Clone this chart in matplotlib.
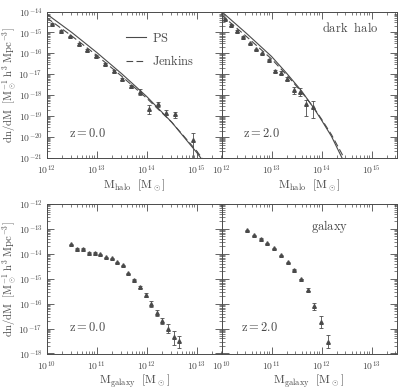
import numpy as np
import matplotlib; matplotlib.use("Agg")
import matplotlib.pyplot as plt
from matplotlib.ticker import LogLocator, FuncFormatter, NullFormatter

plt.rcParams["mathtext.fontset"] = "cm"
plt.rcParams["font.family"] = ["DejaVu Serif"]
INK = "#4a4a4a"

# ---- dark halo, z=0.0 (log10 values) ----
logM_h0 = [12.10, 12.28, 12.47, 12.64, 12.81, 12.99, 13.17, 13.34, 13.51, 13.69, 13.87, 14.05, 14.22, 14.39, 14.57, 14.92]
logn_h0 = [-14.59, -14.92, -15.18, -15.56, -15.84, -16.12, -16.52, -16.86, -17.24, -17.58, -17.85, -18.69, -18.45, -18.85, -18.92, -20.17]
elo_h0 = [0.03, 0.03, 0.03, 0.03, 0.03, 0.04, 0.04, 0.05, 0.06, 0.08, 0.14, 0.22, 0.12, 0.12, 0.16, 1.5]
ehi_h0 = [0.03, 0.03, 0.03, 0.03, 0.03, 0.04, 0.04, 0.05, 0.06, 0.08, 0.14, 0.20, 0.12, 0.12, 0.13, 0.34]
# theory curves z=0.0
cM_0 = [12.0, 12.5, 13.0, 13.5, 14.0, 14.5, 15.0, 15.1, 15.3]
ps_0 = [-14.12, -15.0, -15.96, -16.98, -18.07, -19.30, -20.75, -21.07, -21.8]
jk_0 = [-14.30, -15.17, -16.10, -17.10, -18.15, -19.30, -20.68, -21.0, -21.6]

# ---- dark halo, z=2.0 ----
logM_h2 = [12.06, 12.18, 12.30, 12.42, 12.56, 12.68, 12.81, 12.94, 13.06, 13.18, 13.31, 13.44, 13.57, 13.69, 13.82]
logn_h2 = [-14.37, -14.65, -14.93, -15.21, -15.53, -15.81, -16.01, -16.30, -16.86, -16.94, -17.21, -17.77, -17.86, -18.45, -18.58]
elo_h2 = [0.03, 0.03, 0.03, 0.03, 0.03, 0.03, 0.03, 0.04, 0.06, 0.07, 0.09, 0.17, 0.20, 0.55, 0.54]
ehi_h2 = [0.03, 0.03, 0.03, 0.03, 0.03, 0.03, 0.03, 0.04, 0.06, 0.07, 0.09, 0.17, 0.22, 0.23, 0.31]
cM_2 = [12.0, 12.5, 13.0, 13.3, 13.6, 13.85, 14.0, 14.2, 14.4, 14.55]
ps_2 = [-14.0, -15.05, -16.15, -16.95, -17.80, -18.64, -19.20, -19.98, -20.96, -21.7]
jk_2 = [-14.17, -15.20, -16.27, -17.03, -17.85, -18.62, -19.15, -19.90, -20.78, -21.5]

# ---- galaxy, z=0.0 ----
logM_g0 = [10.49, 10.61, 10.73, 10.85, 10.97, 11.07, 11.19, 11.30, 11.41, 11.53, 11.63, 11.75, 11.87, 11.98, 12.09, 12.20, 12.31, 12.43, 12.55, 12.65]
logn_g0 = [-13.61, -13.80, -13.80, -13.96, -13.96, -14.01, -14.13, -14.17, -14.34, -14.46, -14.77, -15.04, -15.33, -15.65, -16.01, -16.37, -16.70, -17.00, -17.33, -17.50]
elo_g0 = [0.02] * 12 + [0.05, 0.08, 0.11, 0.13, 0.13, 0.19, 0.31, 0.27]
ehi_g0 = [0.02] * 12 + [0.05, 0.08, 0.11, 0.13, 0.13, 0.19, 0.23, 0.20]

# ---- galaxy, z=2.0 ----
logM_g2 = [10.50, 10.64, 10.78, 10.91, 11.04, 11.18, 11.32, 11.45, 11.58, 11.72, 11.85, 11.98, 12.12]
logn_g2 = [-13.06, -13.26, -13.40, -13.57, -13.77, -14.06, -14.34, -14.64, -15.01, -15.44, -16.10, -16.73, -17.54]
elo_g2 = [0.02] * 9 + [0.05, 0.16, 0.24, 0.25]
ehi_g2 = [0.02] * 9 + [0.05, 0.13, 0.23, 0.30]

W, H = 400.0, 390.0
fig = plt.figure(figsize=(4.0, 3.9), dpi=100)
def mkax(x0, y0, y1):
    return fig.add_axes([x0 / W, 1 - y1 / H, 175 / W, (y1 - y0) / H])
ax_h0 = mkax(46.7, 11.5, 157.7); ax_h2 = mkax(221.5, 11.5, 157.7)
ax_g0 = mkax(46.7, 204, 353.5); ax_g2 = mkax(221.5, 204, 353.5)

def pts(ax, lm, ln, lo, hi):
    lm, ln, lo, hi = map(np.asarray, (lm, ln, lo, hi))
    y = 10 ** ln
    yerr = [y - 10 ** (ln - lo), 10 ** (ln + hi) - y]
    ax.errorbar(10 ** lm, y, yerr=yerr, fmt="^", ms=2.6, color=INK, mfc=INK, mec=INK,
                ecolor=INK, elinewidth=0.6, capsize=1.4, capthick=0.6)

fmt = FuncFormatter(lambda v, p: r"$10^{%d}$" % round(np.log10(v)))
def style(ax, xlim, ylim, left):
    ax.set_xscale("log"); ax.set_yscale("log")
    ax.set_xlim(*xlim); ax.set_ylim(*ylim)
    for a in (ax.xaxis, ax.yaxis):
        a.set_major_locator(LogLocator(base=10, numticks=30))
        a.set_minor_locator(LogLocator(base=10, subs=np.arange(2, 10), numticks=30))
        a.set_major_formatter(fmt); a.set_minor_formatter(NullFormatter())
    ax.tick_params(which="both", direction="in", top=True, right=True, colors=INK, labelsize=7, pad=3)
    ax.tick_params(axis="x", which="both", pad=4)
    ax.tick_params(which="major", length=5, width=0.6)
    ax.tick_params(which="minor", length=2.5, width=0.5)
    for s in ax.spines.values():
        s.set_color(INK); s.set_linewidth(0.7)
    if not left:
        ax.tick_params(labelleft=False)

ylab = r"$\mathrm{dn/dM\ \ [M_\odot^{-1}\ h^3\ Mpc^{-3}]}$"
tkw = dict(fontsize=9, color=INK)

# top row: dark halo
for ax, lm, ln, lo, hi, cM, ps, jk, z, left in [
        (ax_h0, logM_h0, logn_h0, elo_h0, ehi_h0, cM_0, ps_0, jk_0, "0.0", True),
        (ax_h2, logM_h2, logn_h2, elo_h2, ehi_h2, cM_2, ps_2, jk_2, "2.0", False)]:
    ax.plot(10 ** np.array(cM), 10 ** np.array(ps), color=INK, lw=0.8, label=r"$\mathrm{PS}$")
    ax.plot(10 ** np.array(cM), 10 ** np.array(jk), color=INK, lw=0.8, ls=(0, (6, 3)), label=r"$\mathrm{Jenkins}$")
    pts(ax, lm, ln, lo, hi)
    style(ax, (1e12, 10 ** 15.5), (1e-21, 1e-14), left)
    ax.set_xlabel(r"$\mathrm{M_{halo}\ \ [M_\odot]}$", fontsize=8.5, color=INK)
    ax.xaxis.set_label_coords(0.5, -0.135)
    ax.text(0.236 if left else 0.23, 0.165, r"$\mathrm{z=%s}$" % z, transform=ax.transAxes, ha="center", va="center", **tkw)
ax_h0.set_ylabel(ylab, fontsize=7.8, color=INK)
ax_h0.yaxis.set_label_coords(-0.165, 0.5)
ax_h0.legend(loc="upper left", bbox_to_anchor=(0.39, 0.94), frameon=False, fontsize=9,
             handlelength=1.6, labelspacing=0.75, handletextpad=0.5, labelcolor=INK)
ax_h2.text(0.734, 0.886, r"$\mathrm{dark\ \ halo}$", transform=ax_h2.transAxes, ha="center", va="center", **tkw)

# bottom row: galaxy
for ax, lm, ln, lo, hi, z, left in [
        (ax_g0, logM_g0, logn_g0, elo_g0, ehi_g0, "0.0", True),
        (ax_g2, logM_g2, logn_g2, elo_g2, ehi_g2, "2.0", False)]:
    pts(ax, lm, ln, lo, hi)
    style(ax, (1e10, 10 ** 13.5), (1e-18, 1e-12), left)
    ax.set_xlabel(r"$\mathrm{M_{galaxy}\ \ [M_\odot]}$", fontsize=8.5, color=INK)
    ax.xaxis.set_label_coords(0.5, -0.125)
    ax.text(0.236 if left else 0.22, 0.175, r"$\mathrm{z=%s}$" % z, transform=ax.transAxes, ha="center", va="center", **tkw)
ax_g0.set_ylabel(ylab, fontsize=7.8, color=INK)
ax_g0.yaxis.set_label_coords(-0.165, 0.5)
ax_g2.text(0.62, 0.851, r"$\mathrm{galaxy}$", transform=ax_g2.transAxes, ha="center", va="center", **tkw)

plt.savefig("out.png", dpi=100)
plt.close()
